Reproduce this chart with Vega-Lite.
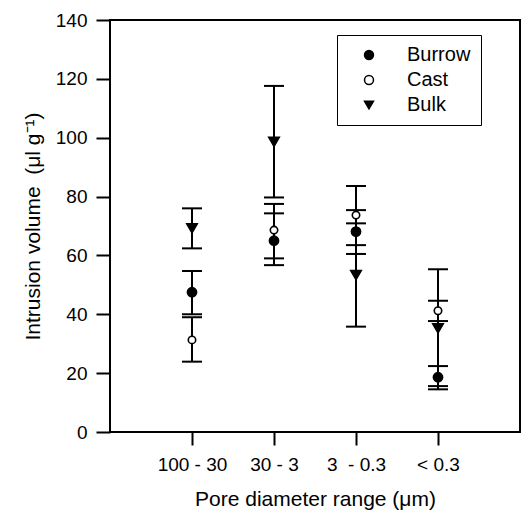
{
  "$schema": "https://vega.github.io/schema/vega-lite/v6.json",
  "width": 410,
  "height": 412,
  "autosize": "none",
  "padding": {"left": 110, "top": 20, "right": 3, "bottom": 78},
  "background": "white",
  "config": {
    "font": "Liberation Sans",
    "view": {"stroke": "black", "strokeWidth": 2},
    "axis": {
      "grid": false,
      "domain": false,
      "tickColor": "black",
      "tickWidth": 2,
      "labelColor": "black",
      "titleColor": "black",
      "labelFont": "Liberation Sans",
      "titleFont": "Liberation Sans",
      "titleFontWeight": "normal",
      "labelFontSize": 19,
      "titleFontSize": 21
    },
    "legend": {
      "orient": "none",
      "legendX": 227,
      "legendY": 15,
      "fillColor": "white",
      "strokeColor": "black",
      "padding": 10,
      "symbolOffset": 12,
      "symbolSize": 80,
      "symbolStrokeWidth": 1.5,
      "labelFontSize": 20,
      "labelFont": "Liberation Sans",
      "labelColor": "black",
      "labelOffset": 28,
      "rowPadding": 5
    }
  },
  "data": {
    "values": [
      {"g": 1, "series": "Burrow", "v": 47.5, "lo": 40.0, "hi": 54.7},
      {"g": 1, "series": "Cast", "v": 31.3, "lo": 23.9, "hi": 39.0},
      {"g": 1, "series": "Bulk", "v": 69.2, "lo": 62.4, "hi": 76.0},
      {"g": 2, "series": "Burrow", "v": 65.0, "lo": 56.7, "hi": 74.3},
      {"g": 2, "series": "Cast", "v": 68.6, "lo": 59.0, "hi": 77.5},
      {"g": 2, "series": "Bulk", "v": 98.6, "lo": 79.7, "hi": 117.6},
      {"g": 3, "series": "Burrow", "v": 68.1, "lo": 60.5, "hi": 75.4},
      {"g": 3, "series": "Cast", "v": 73.7, "lo": 63.5, "hi": 83.6},
      {"g": 3, "series": "Bulk", "v": 53.3, "lo": 35.8, "hi": 70.9},
      {"g": 4, "series": "Burrow", "v": 18.6, "lo": 14.5, "hi": 22.4},
      {"g": 4, "series": "Cast", "v": 41.2, "lo": 37.7, "hi": 44.6},
      {"g": 4, "series": "Bulk", "v": 35.2, "lo": 15.6, "hi": 55.3}
    ]
  },
  "encoding": {
    "x": {
      "field": "g",
      "type": "quantitative",
      "scale": {"domain": [0, 5], "nice": false, "zero": false},
      "axis": {
        "values": [1, 2, 3, 4],
        "tickSize": 13,
        "labelPadding": 10,
        "titlePadding": 14,
        "title": "Pore diameter range (μm)",
        "labelExpr": "datum.value == 1 ? '100 - 30' : datum.value == 2 ? '30 - 3' : datum.value == 3 ? '3\u00a0 - 0.3' : '< 0.3'"
      }
    }
  },
  "layer": [
    {
      "mark": {"type": "rule", "color": "black", "strokeWidth": 2},
      "encoding": {
        "y": {
          "field": "lo",
          "type": "quantitative",
          "scale": {"domain": [0, 140], "nice": false},
          "axis": {
            "values": [0, 20, 40, 60, 80, 100, 120, 140],
            "tickSize": 14,
            "labelPadding": 9,
            "titlePadding": 12,
            "title": "Intrusion volume\u00a0\u00a0(μl g⁻¹)"
          }
        },
        "y2": {"field": "hi"}
      }
    },
    {
      "mark": {"type": "tick", "orient": "horizontal", "color": "black", "size": 20, "thickness": 2, "opacity": 1},
      "encoding": {"y": {"field": "lo", "type": "quantitative"}}
    },
    {
      "mark": {"type": "tick", "orient": "horizontal", "color": "black", "size": 20, "thickness": 2, "opacity": 1},
      "encoding": {"y": {"field": "hi", "type": "quantitative"}}
    },
    {
      "mark": {"type": "point", "filled": true, "strokeWidth": 1.6, "opacity": 1},
      "encoding": {
        "y": {"field": "v", "type": "quantitative"},
        "size": {
          "condition": [
            {"test": "datum.series == 'Cast'", "value": 55},
            {"test": "datum.series == 'Bulk'", "value": 110}
          ],
          "value": 85
        },
        "shape": {
          "field": "series",
          "type": "nominal",
          "scale": {"domain": ["Burrow", "Cast", "Bulk"], "range": ["circle", "circle", "triangle-down"]},
          "legend": {"title": null}
        },
        "fill": {
          "field": "series",
          "type": "nominal",
          "scale": {"domain": ["Burrow", "Cast", "Bulk"], "range": ["black", "white", "black"]},
          "legend": {"title": null}
        },
        "stroke": {
          "field": "series",
          "type": "nominal",
          "scale": {"domain": ["Burrow", "Cast", "Bulk"], "range": ["black", "black", "black"]},
          "legend": {"title": null}
        }
      }
    }
  ]
}
